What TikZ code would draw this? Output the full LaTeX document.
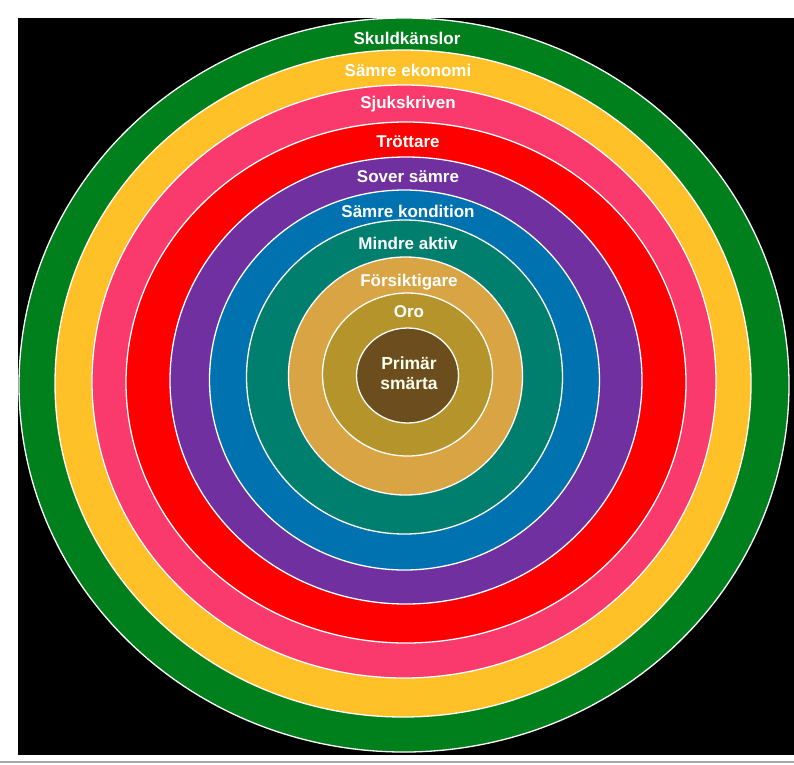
\documentclass[tikz,border=0pt]{standalone}
\usepackage{fontspec}
\setmainfont{Liberation Sans}
\definecolor{cGreen}{RGB}{0,128,28}
\definecolor{cYellow}{RGB}{255,192,40}
\definecolor{cPink}{RGB}{250,58,108}
\definecolor{cRed}{RGB}{255,0,0}
\definecolor{cPurple}{RGB}{112,48,160}
\definecolor{cBlue}{RGB}{0,114,176}
\definecolor{cTeal}{RGB}{0,126,110}
\definecolor{cTan}{RGB}{216,164,68}
\definecolor{cOlive}{RGB}{182,148,44}
\definecolor{cBrown}{RGB}{108,78,30}
\tikzset{
  ring/.style={draw=white, line width=1.3pt},
  lbl/.style={text=white, font=\bfseries\fontsize{17}{19}\selectfont, inner sep=0pt, align=center},
  biglbl/.style={lbl, text=white!92!yellow, font=\bfseries\fontsize{17.5}{20}\selectfont}
}
\begin{document}
\begin{tikzpicture}[x=1pt,y=-1pt]
\useasboundingbox (0,0) rectangle (794,764);
\fill[white] (0,0) rectangle (794,764);
\fill[black] (18,18) rectangle (794,755);
\fill[gray!70] (0,761) rectangle (794,763);
\begin{scope}
\clip (18,18) rectangle (794,755);
\draw[ring, fill=cGreen]  (404,385)   ellipse [x radius=385, y radius=367];
\draw[ring, fill=cYellow] (403,383.5) ellipse [x radius=348, y radius=333.5];
\draw[ring, fill=cPink]   (404,381.5) ellipse [x radius=312, y radius=296.5];
\draw[ring, fill=cRed]    (406,382.5) ellipse [x radius=280, y radius=260.5];
\draw[ring, fill=cPurple] (406,380.5) ellipse [x radius=236, y radius=223.5];
\draw[ring, fill=cBlue]   (404.5,380) ellipse [x radius=195, y radius=190];
\draw[ring, fill=cTeal]   (404.5,377) ellipse [x radius=158, y radius=157];
\draw[ring, fill=cTan]    (405.5,376) ellipse [x radius=117, y radius=119];
\draw[ring, fill=cOlive]  (407.5,374.5) ellipse [x radius=85, y radius=81.5];
\draw[ring, fill=cBrown]  (407.5,375.5) ellipse [x radius=51, y radius=47.5];
\end{scope}
\node[lbl] (t1) at (407,38) {Skuldkänslor};
\node[lbl] (t2) at (408,70) {Sämre ekonomi};
\node[lbl] (t3) at (408,104) {Sjukskriven};
\node[lbl] (t4) at (408,142) {Tröttare};
\node[lbl] (t5) at (408,177) {Sover sämre};
\node[lbl] (t6) at (408,211) {Sämre kondition};
\node[lbl] (t7) at (408,243) {Mindre aktiv};
\node[lbl] (t8) at (409,282) {Försiktigare};
\node[lbl] (t9) at (409,312) {Oro};
\node[biglbl] (t10) at (409,373) {Primär\\smärta};
\end{tikzpicture}
\end{document}
